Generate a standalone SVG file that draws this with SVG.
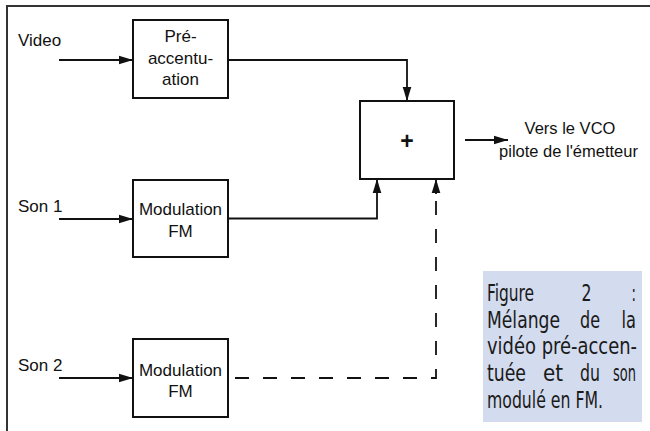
<svg xmlns="http://www.w3.org/2000/svg" width="650" height="431" viewBox="0 0 650 431">
<defs>
<marker id="ah" markerUnits="userSpaceOnUse" markerWidth="14" markerHeight="10" viewBox="0 0 13 8" refX="13" refY="4" orient="auto">
<path d="M0,0 L13,4 L0,8 z" fill="#111"/>
</marker>
<style>
.box{fill:#fff;stroke:#111;stroke-width:2}
.lbl{font-family:"Liberation Sans",Arial,sans-serif;font-size:17px;fill:#111}
.c{text-anchor:middle}
.wire{fill:none;stroke:#111;stroke-width:1.8}
.dash{stroke-dasharray:14 14;stroke-dashoffset:26}
.cap{font-family:"DejaVu Sans Condensed","Liberation Sans Narrow",sans-serif;font-size:23px;fill:#1a1a1a}
</style>
</defs>
<rect width="650" height="431" fill="#fff"/>
<path d="M7,431 V6 H650" fill="none" stroke="#333" stroke-width="2"/>

<g id="connectors">
<path class="wire" d="M59,60 H133" marker-end="url(#ah)"/>
<path class="wire" d="M59,219 H133" marker-end="url(#ah)"/>
<path class="wire" d="M59,378 H133" marker-end="url(#ah)"/>
<path class="wire" d="M228,60 H407 V101" marker-end="url(#ah)"/>
<path class="wire" d="M228,218.5 H377 V179" marker-end="url(#ah)"/>
<path class="wire dash" d="M233,378 H436 V193"/>
<path class="wire" d="M436,194 V179" marker-end="url(#ah)"/>
<path class="wire" d="M465,140 H508" marker-end="url(#ah)"/>
</g>

<g id="inputs">
<text class="lbl" x="18" y="46">Video</text>
<text class="lbl" x="18" y="212">Son 1</text>
<text class="lbl" x="18" y="371">Son 2</text>
</g>

<g id="preaccentuation">
<rect class="box" x="133" y="20" width="95" height="78"/>
<text class="lbl c" x="180.5" y="42">Pré-</text>
<text class="lbl c" x="180.5" y="64">accentu-</text>
<text class="lbl c" x="180.5" y="85">ation</text>
</g>

<g id="modulation1">
<rect class="box" x="133" y="180" width="95" height="77"/>
<text class="lbl c" x="180.5" y="215">Modulation</text>
<text class="lbl c" x="180.5" y="237">FM</text>
</g>

<g id="modulation2">
<rect class="box" x="133" y="339" width="95" height="78"/>
<text class="lbl c" x="180.5" y="375.5">Modulation</text>
<text class="lbl c" x="180.5" y="396.5">FM</text>
</g>

<g id="sommateur">
<rect class="box" x="360" y="101" width="94" height="78"/>
<text x="407" y="149" text-anchor="middle" font-family="Liberation Sans, Arial, sans-serif" font-weight="bold" font-size="23" fill="#111">+</text>
</g>

<g id="sortie">
<text class="lbl c" x="570" y="134" style="font-size:16.5px">Vers le VCO</text>
<text class="lbl c" x="568.5" y="157" style="font-size:16.5px">pilote de l'émetteur</text>
</g>

<g id="legende">
<rect x="483" y="271" width="159" height="151" fill="#d3dbee"/>
<text class="cap" x="487" y="301" textLength="47" lengthAdjust="spacingAndGlyphs">Figure</text>
<text class="cap" x="581.5" y="301" textLength="10" lengthAdjust="spacingAndGlyphs">2</text>
<text class="cap" x="631.5" y="301" textLength="4.5" lengthAdjust="spacingAndGlyphs">:</text>
<text class="cap" x="487" y="327.5" textLength="73" lengthAdjust="spacingAndGlyphs">Mélange</text>
<text class="cap" x="580" y="327.5" textLength="20" lengthAdjust="spacingAndGlyphs">de</text>
<text class="cap" x="621.5" y="327.5" textLength="14.5" lengthAdjust="spacingAndGlyphs">la</text>
<text class="cap" x="487" y="354" textLength="150" lengthAdjust="spacingAndGlyphs">vidéo pré-accen-</text>
<text class="cap" x="487" y="381" textLength="39" lengthAdjust="spacingAndGlyphs">tuée</text>
<text class="cap" x="543" y="381" textLength="20" lengthAdjust="spacingAndGlyphs">et</text>
<text class="cap" x="580" y="381" textLength="20" lengthAdjust="spacingAndGlyphs">du</text>
<text class="cap" x="613" y="381" textLength="23" lengthAdjust="spacingAndGlyphs">son</text>
<text class="cap" x="487" y="408" textLength="116" lengthAdjust="spacingAndGlyphs">modulé en FM.</text>
</g>
</svg>
